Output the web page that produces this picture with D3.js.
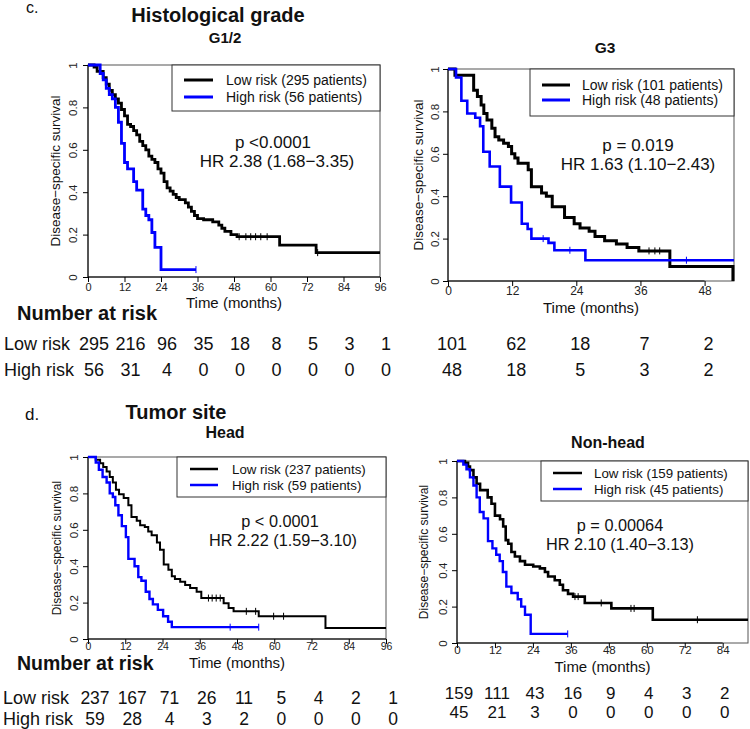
<!DOCTYPE html>
<html><head><meta charset="utf-8">
<script src="https://cdn.jsdelivr.net/npm/d3@7"></script>
<style>
body{margin:0;background:#fff}
svg{display:block;font-family:"Liberation Sans",Arial,sans-serif}
</style>
</head><body>
<svg id="chart" width="750" height="729"></svg>
<script>
// ---------- DATA ----------
const ticks96 = [0,12,24,36,48,60,72,84,96];
const ticks48 = [0,12,24,36,48];
const ticks84 = [0,12,24,36,48,60,72,84];
const survTicks = [0,0.2,0.4,0.6,0.8,1];

// Histological grade G1/2
const g12Low = [[0,1],[2,0.99],[3,0.97],[5,0.94],[6,0.91],[7,0.88],[8,0.86],[9,0.84],[10,0.82],[11,0.79],[12,0.76],[13,0.72],[14,0.71],[15,0.69],[16,0.67],[17,0.64],[18,0.62],[19,0.6],[20,0.57],[21,0.555],[22,0.54],[23,0.51],[24,0.49],[25,0.45],[26,0.42],[27,0.405],[28,0.39],[29,0.375],[30,0.365],[32,0.35],[33,0.33],[34,0.31],[35,0.29],[36,0.275],[38,0.27],[41,0.26],[43,0.245],[44,0.23],[45,0.215],[47,0.2],[49,0.19],[63,0.15],[75,0.115]];
const g12LowEnd = 96;
const g12LowCensor = [49.7,51.9,53.5,55.1,56.8,58.9,75.5];
const g12High = [[0,1],[4,0.96],[5,0.93],[6,0.89],[7,0.86],[8,0.84],[9,0.8],[10,0.73],[11,0.63],[12,0.54],[13,0.51],[15,0.45],[16,0.41],[18,0.32],[19,0.29],[20,0.27],[21,0.21],[22,0.14],[24,0.035]];
const g12HighEnd = 35.5;
const g12HighCensor = [35.5];

// Histological grade G3
const g3Low = [[0,1],[1.3,0.97],[4.8,0.9],[5.5,0.87],[6.2,0.83],[6.7,0.79],[7.3,0.76],[8.2,0.72],[8.8,0.68],[9.5,0.665],[10.4,0.65],[11.3,0.635],[11.9,0.6],[12.5,0.58],[13.1,0.555],[15,0.525],[15.6,0.445],[17.5,0.415],[18.4,0.4],[19.5,0.35],[21.8,0.3],[23.6,0.27],[24.7,0.25],[26.4,0.235],[27.5,0.21],[29.3,0.19],[31.5,0.175],[33.5,0.158],[35.7,0.142],[41.5,0.068],[53.3,0]];
const g3LowEnd = 53.3;
const g3LowCensor = [37.6,38.7,39.6];
const g3High = [[0,1],[1.5,0.96],[2.5,0.85],[3.6,0.79],[5.1,0.77],[6,0.73],[6.6,0.61],[7.8,0.54],[9.7,0.445],[11.8,0.37],[13.8,0.27],[14.9,0.245],[15.6,0.2],[18.8,0.18],[19.9,0.145],[25.7,0.098]];
const g3HighEnd = 53.5;
const g3HighCensor = [17.8,22.8,44.6];

// Tumor site: Head
const headLow = [[0,1],[2.5,0.985],[3.9,0.965],[4.9,0.945],[6,0.92],[7,0.89],[8,0.86],[9,0.82],[10,0.795],[11.5,0.775],[13,0.735],[14,0.67],[15.7,0.65],[16.8,0.625],[18.3,0.615],[19.4,0.59],[20.5,0.57],[22.2,0.53],[23.2,0.49],[24.4,0.41],[25.9,0.38],[27,0.345],[28,0.33],[29.7,0.315],[31.3,0.297],[32.9,0.28],[35,0.26],[36.5,0.225],[43.7,0.197],[45.3,0.17],[46.9,0.152],[55,0.125],[76.5,0.06]];
const headLowEnd = 96;
const headLowCensor = [38.8,40,41.3,42.6,51,54,59.8,63];
const headHigh = [[0,1],[2.5,0.97],[3.5,0.93],[4.7,0.89],[6,0.86],[7,0.8],[8,0.78],[8.8,0.735],[9.8,0.68],[10.9,0.62],[12.2,0.56],[13,0.44],[15,0.4],[16.2,0.34],[17.2,0.32],[18.6,0.26],[19.8,0.22],[20.9,0.19],[22.5,0.16],[24.2,0.125],[25.8,0.095],[27,0.065]];
const headHighEnd = 55;
const headHighCensor = [45.8,55];

// Tumor site: Non-head
const nonHeadLow = [[0,1],[2.5,0.99],[3.5,0.97],[4.1,0.95],[5.2,0.91],[6.2,0.875],[7.3,0.84],[9.7,0.8],[10.9,0.765],[12,0.7],[13.6,0.68],[14.6,0.64],[15.4,0.565],[16.2,0.545],[17.2,0.5],[18.3,0.475],[19.9,0.45],[21.5,0.43],[24.1,0.42],[26.2,0.41],[27.8,0.39],[28.8,0.365],[30.9,0.345],[32.5,0.32],[33.5,0.29],[35.1,0.27],[36.7,0.255],[40.4,0.22],[48.8,0.19],[61.9,0.128]];
const nonHeadLowEnd = 92;
const nonHeadLowCensor = [37.3,38.3,45.6,55,56,76];
const nonHeadHigh = [[0,1],[2,0.98],[3,0.955],[4.1,0.91],[5.2,0.865],[6.2,0.8],[7.2,0.72],[8.4,0.685],[9.8,0.56],[11.2,0.52],[12.4,0.485],[13.5,0.45],[14.5,0.39],[15.6,0.31],[17.2,0.275],[19.2,0.24],[20.3,0.2],[21.5,0.155],[23.3,0.05]];
const nonHeadHighEnd = 35;
const nonHeadHighCensor = [35];

// Number at risk
const g12RiskLow = [295,216,96,35,18,8,5,3,1];
const g12RiskHigh = [56,31,4,0,0,0,0,0,0];
const g3RiskLow = [101,62,18,7,2];
const g3RiskHigh = [48,18,5,3,2];
const headRiskLow = [237,167,71,26,11,5,4,2,1];
const headRiskHigh = [59,28,4,3,2,0,0,0,0];
const nonHeadRiskLow = [159,111,43,16,9,4,3,2];
const nonHeadRiskHigh = [45,21,3,0,0,0,0,0];

// ---------- DRAW ----------
const svg = d3.select('#chart');
const BLUE = '#0000ff';

function stepValue(data, t){
  let v = data[0][1];
  for (const d of data){ if (d[0] <= t) v = d[1]; }
  return v;
}

function text(x, y, s, size, opts={}){
  const t = svg.append('text').attr('x', x).attr('y', y).text(s)
    .attr('font-size', size)
    .attr('text-anchor', opts.anchor || 'middle')
    .attr('fill', '#111');
  if (opts.bold) t.attr('font-weight', 'bold');
  if (!opts.baseline) t.attr('dominant-baseline', 'central');
  return t;
}

function panel(c){
  const x = d3.scaleLinear().domain(c.xDomain).range([c.left, c.right]);
  const y = d3.scaleLinear().domain([0,1]).range([c.bottom, c.top]);

  // frame
  svg.append('rect').attr('x', c.left).attr('y', c.top)
    .attr('width', c.right - c.left).attr('height', c.bottom - c.top)
    .attr('fill', 'none').attr('stroke', '#555').attr('stroke-width', 1);

  // x axis
  const gx = svg.append('g').attr('transform', `translate(0,${c.bottom})`)
    .call(d3.axisBottom(x).tickValues(c.xTicks).tickSize(5).tickSizeOuter(0).tickFormat(d => d));
  gx.select('.domain').remove();
  gx.append('line').attr('x1', x(c.xTicks[0])).attr('x2', x(c.xTicks[c.xTicks.length-1]))
    .attr('stroke', '#000');
  gx.selectAll('.tick line').attr('stroke', '#000');
  gx.selectAll('.tick text').attr('y', c.xLabelY - c.bottom).attr('dy', '0.35em')
    .attr('font-size', c.xTickFont).attr('font-family', '"Liberation Sans",Arial,sans-serif')
    .attr('fill', '#222');

  // y axis
  const gy = svg.append('g').attr('transform', `translate(${c.left},0)`)
    .call(d3.axisLeft(y).tickValues(survTicks).tickSize(5).tickSizeOuter(0).tickFormat(d => String(d)));
  gy.select('.domain').remove();
  gy.append('line').attr('y1', y(0)).attr('y2', y(1)).attr('stroke', '#000');
  gy.selectAll('.tick line').attr('stroke', '#000');
  gy.selectAll('.tick text').attr('x', 0).attr('y', 0).attr('dy', '0.35em')
    .attr('text-anchor', 'middle')
    .attr('transform', `translate(${c.yLabelX - c.left},0) rotate(-90)`)
    .attr('font-size', 11.5).attr('font-family', '"Liberation Sans",Arial,sans-serif')
    .attr('fill', '#222');

  // axis titles
  text((c.left + c.right)/2, c.timeY, 'Time (months)', 15);
  text(c.yTitleX, (c.top + c.bottom)/2, 'Disease\u2212specific survival', c.yTitleFont)
    .attr('transform', `rotate(-90,${c.yTitleX},${(c.top + c.bottom)/2})`);

  // curves
  const line = d3.line().x(d => x(d[0])).y(d => y(d[1])).curve(d3.curveStepAfter);
  c.series.forEach(s => {
    const pts = s.data.concat([[s.end, s.data[s.data.length-1][1]]]);
    svg.append('path').attr('d', line(pts)).attr('fill', 'none')
      .attr('stroke', s.color).attr('stroke-width', s.width);
    s.censor.forEach(t => {
      const v = stepValue(s.data, t);
      svg.append('line').attr('x1', x(t)).attr('x2', x(t))
        .attr('y1', y(v) - 3.5).attr('y2', y(v) + 3.5)
        .attr('stroke', s.color).attr('stroke-width', 1);
    });
  });

  // legend
  const L = c.legend;
  svg.append('rect').attr('x', L.x0).attr('y', L.y0).attr('width', L.x1 - L.x0)
    .attr('height', L.y1 - L.y0).attr('fill', '#fff').attr('stroke', '#333').attr('stroke-width', 1);
  c.series.forEach((s, i) => {
    svg.append('line').attr('x1', L.lx0).attr('x2', L.lx1)
      .attr('y1', L.ly[i]).attr('y2', L.ly[i]).attr('stroke', s.color).attr('stroke-width', L.lw);
    text(L.tx, L.ly[i], s.label, L.font, {anchor: 'start'});
  });

  // stats
  text(c.pX, c.pY, c.pText, c.statFont);
  text(c.hrX, c.hrY, c.hrText, c.statFont);

  // subtitle
  text(c.subX, c.subY, c.sub, c.subFont, {bold: true});

  // risk table
  c.risk.forEach(r => {
    r.values.forEach((v, i) => {
      text(x(c.riskTimes[i]) + c.riskOffset, r.y, v, c.riskFont);
    });
  });
  return x;
}

panel({
  xDomain: [0, 96], left: 88, right: 380, top: 65, bottom: 277,
  xTicks: ticks96, xTickFont: 11, xLabelY: 287, timeY: 302,
  yLabelX: 73, yTitleX: 55, yTitleFont: 13.5,
  series: [
    {data: g12Low, end: g12LowEnd, censor: g12LowCensor, color: '#000', width: 2.8, label: 'Low risk (295 patients)'},
    {data: g12High, end: g12HighEnd, censor: g12HighCensor, color: BLUE, width: 2.8, label: 'High risk (56 patients)'}
  ],
  legend: {x0: 172, y0: 65, x1: 380, y1: 111, lx0: 184, lx1: 213, ly: [80, 97], tx: 226, lw: 3, font: 14},
  pText: 'p <0.0001', pX: 273, pY: 142,
  hrText: 'HR 2.38 (1.68\u22123.35)', hrX: 277, hrY: 161, statFont: 17,
  sub: 'G1/2', subX: 225, subY: 37, subFont: 15,
  riskTimes: ticks96, riskOffset: 6, riskFont: 18,
  risk: [{values: g12RiskLow, y: 344}, {values: g12RiskHigh, y: 370}]
});

panel({
  xDomain: [0, 53.5], left: 448, right: 734, top: 69, bottom: 281,
  xTicks: ticks48, xTickFont: 12, xLabelY: 291, timeY: 307,
  yLabelX: 435, yTitleX: 418, yTitleFont: 13.5,
  series: [
    {data: g3Low, end: g3LowEnd, censor: g3LowCensor, color: '#000', width: 3, label: 'Low risk (101 patients)'},
    {data: g3High, end: g3HighEnd, censor: g3HighCensor, color: BLUE, width: 2.6, label: 'High risk (48 patients)'}
  ],
  legend: {x0: 530, y0: 69, x1: 734, y1: 116, lx0: 542, lx1: 570, ly: [85, 100], tx: 582, lw: 3, font: 14},
  pText: 'p = 0.019', pX: 638, pY: 145,
  hrText: 'HR 1.63 (1.10\u22122.43)', hrX: 638, hrY: 164, statFont: 17,
  sub: 'G3', subX: 605, subY: 47, subFont: 15.5,
  riskTimes: ticks48, riskOffset: 4, riskFont: 18,
  risk: [{values: g3RiskLow, y: 344}, {values: g3RiskHigh, y: 370}]
});

panel({
  xDomain: [0, 96], left: 88, right: 386, top: 457, bottom: 639,
  xTicks: ticks96, xTickFont: 10.5, xLabelY: 646, timeY: 662,
  yLabelX: 74, yTitleX: 57, yTitleFont: 12,
  series: [
    {data: headLow, end: headLowEnd, censor: headLowCensor, color: '#000', width: 2, label: 'Low risk (237 patients)'},
    {data: headHigh, end: headHighEnd, censor: headHighCensor, color: BLUE, width: 2.4, label: 'High risk (59 patients)'}
  ],
  legend: {x0: 177, y0: 457, x1: 386, y1: 497, lx0: 190, lx1: 218, ly: [469, 485], tx: 232, lw: 2.5, font: 13.3},
  pText: 'p < 0.0001', pX: 280, pY: 521,
  hrText: 'HR 2.22 (1.59\u22123.10)', hrX: 283, hrY: 539.5, statFont: 16.3,
  sub: 'Head', subX: 225, subY: 432, subFont: 16,
  riskTimes: ticks96, riskOffset: 7, riskFont: 17.5,
  risk: [{values: headRiskLow, y: 698}, {values: headRiskHigh, y: 719}]
});

panel({
  xDomain: [0, 92], left: 457, right: 748, top: 461, bottom: 643,
  xTicks: ticks84, xTickFont: 11.5, xLabelY: 650, timeY: 666,
  yLabelX: 443, yTitleX: 424, yTitleFont: 12,
  series: [
    {data: nonHeadLow, end: nonHeadLowEnd, censor: nonHeadLowCensor, color: '#000', width: 2.6, label: 'Low risk (159 patients)'},
    {data: nonHeadHigh, end: nonHeadHighEnd, censor: nonHeadHighCensor, color: BLUE, width: 2.4, label: 'High risk (45 patients)'}
  ],
  legend: {x0: 541, y0: 461, x1: 748, y1: 501, lx0: 553, lx1: 582, ly: [473, 489], tx: 594, lw: 2.5, font: 13.3},
  pText: 'p = 0.00064', pX: 620, pY: 525,
  hrText: 'HR 2.10 (1.40\u22123.13)', hrX: 620, hrY: 543.5, statFont: 16.3,
  sub: 'Non-head', subX: 608, subY: 442, subFont: 16,
  riskTimes: ticks84, riskOffset: 2, riskFont: 17,
  risk: [{values: nonHeadRiskLow, y: 693}, {values: nonHeadRiskHigh, y: 712}]
});

// section labels and headers
text(26, 13, 'c.', 16, {anchor: 'start', baseline: true});
text(218, 15, 'Histological grade', 20, {bold: true});
text(17, 313, 'Number  at risk', 20, {bold: true, anchor: 'start'});
text(4, 344, 'Low risk', 18, {anchor: 'start'});
text(4, 370, 'High risk', 18, {anchor: 'start'});

text(25, 420, 'd.', 17, {anchor: 'start', baseline: true});
text(176, 412, 'Tumor site', 20, {bold: true});
text(17, 663, 'Number  at risk', 19.5, {bold: true, anchor: 'start'});
text(3, 698, 'Low risk', 18, {anchor: 'start'});
text(3, 719, 'High risk', 18, {anchor: 'start'});
</script>
</body></html>
